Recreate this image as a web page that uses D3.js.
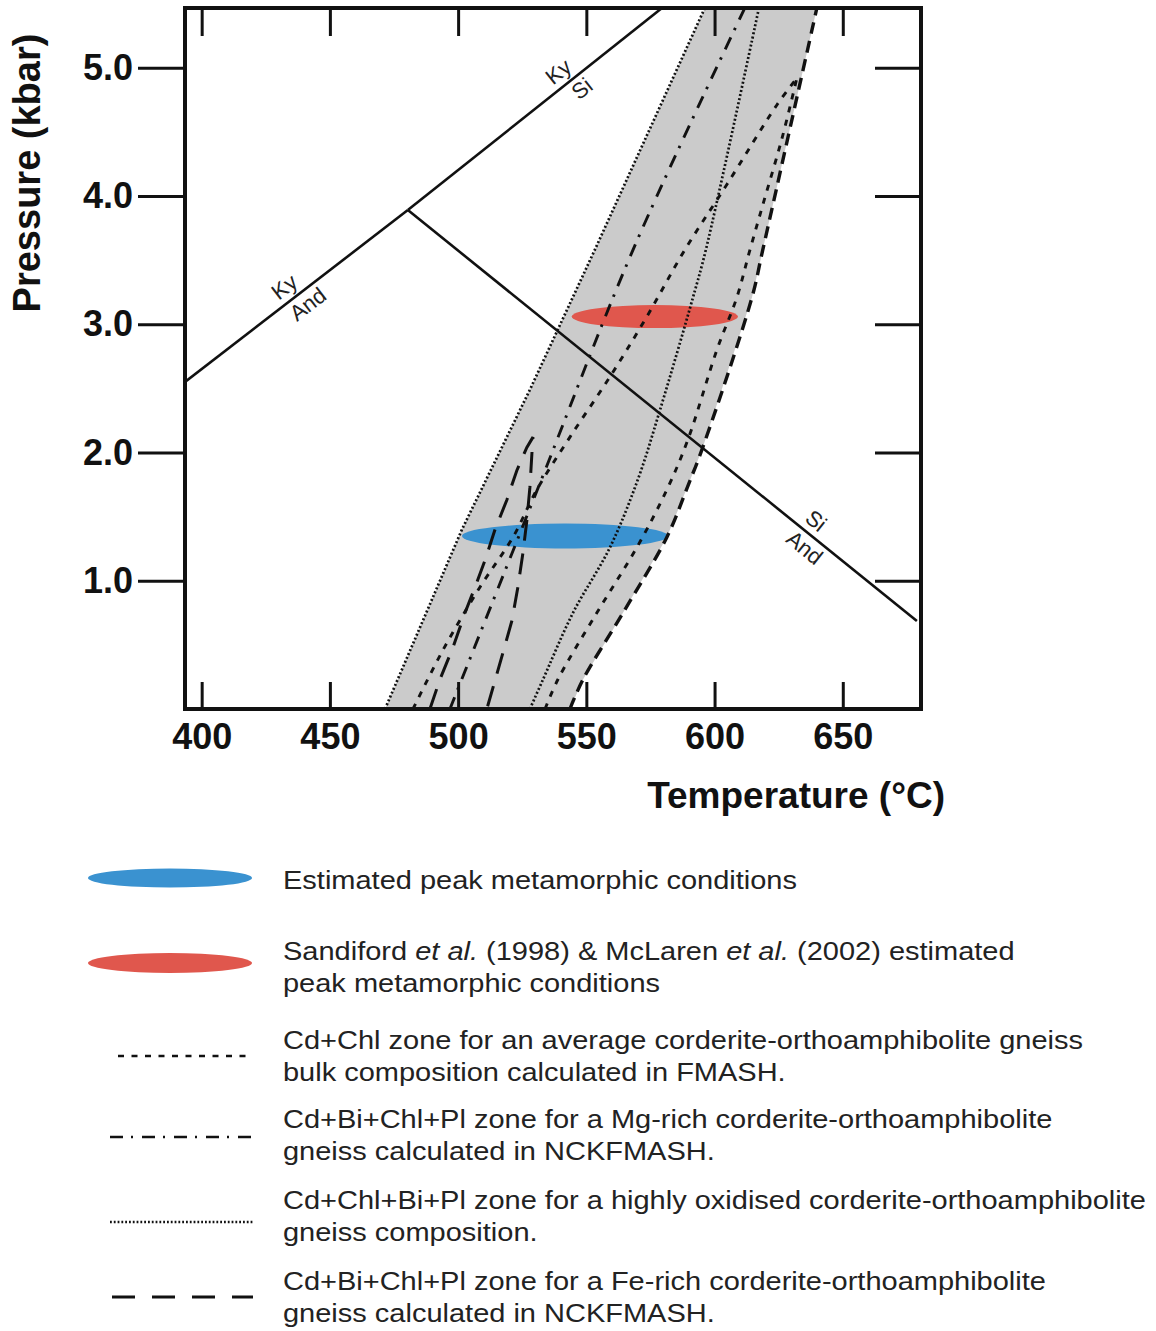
<!DOCTYPE html>
<html><head><meta charset="utf-8">
<script src="https://cdn.jsdelivr.net/npm/d3@7"></script>
<style>body{margin:0;background:#fff}svg{display:block}</style>
</head><body>
<svg id="c" width="1156" height="1331"></svg>
<script>
// ---------- data (temperature °C, pressure kbar) ----------
const xTicks = [400, 450, 500, 550, 600, 650];
const yTicks = [1, 2, 3, 4, 5];
const yTickLabels = ["1.0", "2.0", "3.0", "4.0", "5.0"];
const xDomain = [393.5, 680.5];
const yDomain = [0, 5.466];

// aluminosilicate reaction lines
const kyAnd = [[393.5, 2.55], [480.4, 3.891]];
const kySi  = [[480.4, 3.891], [579.5, 5.466]];
const siAnd = [[480.4, 3.891], [678.9, 0.686]];

// zone boundaries
const oxLeft  = [[471.5,0],[501.5,1.40],[528.0,2.49],[553.3,3.58],[596.2,5.466]];
const oxRight = [[528.0,0],[533.1,0.23],[544.8,0.75],[559.2,1.26],[570.1,1.79],[578.7,2.33],[591.6,3.21],[596.6,3.58],[617.3,5.466]];
const bandRight = [[543.6,0],[548.7,0.23],[564.3,0.75],[581.4,1.34],[590.0,1.76],[595.4,2.04],[614.6,3.21],[618.8,3.58],[639.9,5.466]];
const fmashLeft = [[482.4,0],[494.1,0.46],[508.5,0.95],[521.4,1.34],[530.7,1.71],[543.6,2.12],[559.2,2.59],[573.6,3.06],[588.4,3.58],[604.8,4.09],[624.3,4.71],[632.1,4.92]];
const fmashRight = [[533.9,0],[538.9,0.23],[554.1,0.75],[569.7,1.26],[581.4,1.71],[589.6,2.10],[600.9,2.80],[608.7,3.21],[613.8,3.58],[618.8,3.93],[626.3,4.45],[632.1,4.92]];
const mgRich = [[496.8,0],[531.9,1.76],[568.2,3.58],[611.8,5.466]];
const feRich = [[489.0,0],[492.9,0.23],[498.0,0.48],[502.7,0.75],[506.6,0.95],[510.5,1.16],[514.4,1.40],[519.0,1.63],[522.9,1.86],[526.8,2.04],[529.2,2.12],[528.8,2.00],[528.0,1.73],[526.8,1.47],[525.3,1.22],[523.3,0.95],[521.0,0.69],[517.5,0.44],[511.2,0]];

// peak condition ellipses: centre T, P and half-widths
const peakThisStudy = {T: 541.7, P: 1.349, dT: 40.2, dP: 0.097};
const peakPrevious  = {T: 576.7, P: 3.06,  dT: 32.4, dP: 0.090};

const reactionLabels = [
  {line: kySi,  t: 0.64, above: "Ky", below: "Si"},
  {line: kyAnd, t: 0.50, above: "Ky", below: "And"},
  {line: siAnd, t: 0.79, above: "Si", below: "And"}
];

const legendLabels = [
  ["Estimated peak metamorphic conditions"],
  ["Sandiford <i>et al.</i> (1998) &amp; McLaren <i>et al.</i> (2002) estimated", "peak metamorphic conditions"],
  ["Cd+Chl zone for an average corderite-orthoamphibolite gneiss", "bulk composition calculated in FMASH."],
  ["Cd+Bi+Chl+Pl zone for a Mg-rich corderite-orthoamphibolite", "gneiss calculated in NCKFMASH."],
  ["Cd+Chl+Bi+Pl zone for a highly oxidised corderite-orthoamphibolite", "gneiss composition."],
  ["Cd+Bi+Chl+Pl zone for a Fe-rich corderite-orthoamphibolite", "gneiss calculated in NCKFMASH."]
];

// ---------- styles ----------
const S = {
  dotted:   {dash: "2,2.2",   w: 2.7},
  short:    {dash: "6,7.5",   w: 2.9},
  dashdot:  {dash: "13,8,2.5,9", w: 2.9},
  long:     {dash: "21,13",   w: 3.0},
  heavy:    {dash: "12,7",    w: 3.4}
};
const blue = "#3a92d0", red = "#e0574d";

// ---------- drawing ----------
const svg = d3.select("#c");
const x = d3.scaleLinear().domain(xDomain).range([185, 921]);
const y = d3.scaleLinear().domain(yDomain).range([709, 8]);

svg.append("defs").append("clipPath").attr("id","plot")
  .append("rect").attr("x", x(xDomain[0])).attr("y", y(yDomain[1]))
  .attr("width", x(xDomain[1]) - x(xDomain[0])).attr("height", y(yDomain[0]) - y(yDomain[1]));

const plot = svg.append("g").attr("clip-path", "url(#plot)");
const smooth = d3.line().x(d => x(d[0])).y(d => y(d[1])).curve(d3.curveCatmullRom.alpha(0.5));
const straight = d3.line().x(d => x(d[0])).y(d => y(d[1]));

// grey band
const bandPath = straight(oxLeft) + straight(bandRight.slice().reverse()).replace(/^M/, "L") + "Z";
plot.append("path").attr("d", bandPath).attr("fill", "#cbcbcb").attr("stroke", "none");

// ellipses
function ell(g, e, col) {
  g.append("ellipse")
    .attr("cx", x(e.T)).attr("cy", y(e.P))
    .attr("rx", x(e.T + e.dT) - x(e.T)).attr("ry", y(e.P - e.dP) - y(e.P))
    .attr("fill", col);
}
ell(plot, peakThisStudy, blue);
ell(plot, peakPrevious, red);

function zone(data, st, gen) {
  plot.append("path").attr("d", (gen || smooth)(data))
    .attr("fill", "none").attr("stroke", "#111")
    .attr("stroke-width", st.w).attr("stroke-dasharray", st.dash);
}
zone(oxLeft, S.dotted, straight);
zone(oxRight, S.dotted);
zone(bandRight, S.heavy);
zone(fmashLeft, S.short);
zone(fmashRight, S.short);
zone(mgRich, S.dashdot);
zone(feRich, S.long, straight);

// aluminosilicate lines
[kyAnd, kySi, siAnd].forEach(l => {
  plot.append("path").attr("d", straight(l)).attr("fill", "none")
    .attr("stroke", "#111").attr("stroke-width", 2.6);
});
reactionLabels.forEach(r => {
  const [a, b] = r.line;
  const T = a[0] + (b[0] - a[0]) * r.t, P = a[1] + (b[1] - a[1]) * r.t;
  const px = x(T), py = y(P);
  const ang = Math.atan2(y(b[1]) - y(a[1]), x(b[0]) - x(a[0])) * 180 / Math.PI;
  const g = svg.append("g").attr("transform", `translate(${px},${py}) rotate(${ang})`)
    .attr("font-family", "Liberation Sans, Arial, sans-serif").attr("font-size", 22)
    .attr("fill", "#222").attr("text-anchor", "middle");
  g.append("text").attr("x", -4).attr("y", -7).text(r.above);
  g.append("text").attr("x", 4).attr("y", 21).text(r.below);
});

// axes
const font = "Liberation Sans, Arial, Helvetica, sans-serif";
function styleAxis(g) {
  g.select(".domain").remove();
  g.selectAll(".tick line").attr("stroke", "#111").attr("stroke-width", 3);
  g.selectAll(".tick text").attr("font-family", font).attr("font-weight", "bold")
    .attr("font-size", 36).attr("fill", "#111");
}
svg.append("g").attr("transform", `translate(0,${y(yDomain[0])})`)
  .call(d3.axisBottom(x).tickValues(xTicks).tickSize(-27).tickPadding(14).tickFormat(d3.format("d")))
  .call(styleAxis);
svg.append("g").attr("transform", `translate(0,${y(yDomain[1])})`)
  .call(d3.axisTop(x).tickValues(xTicks).tickSize(-28).tickFormat(""))
  .call(styleAxis);
svg.append("g").attr("transform", `translate(${x(xDomain[0])},0)`)
  .call(d3.axisLeft(y).tickValues(yTicks).tickSize(47).tickPadding(5).tickFormat((d, i) => yTickLabels[i]))
  .call(styleAxis);
svg.append("g").attr("transform", `translate(${x(xDomain[1])},0)`)
  .call(d3.axisRight(y).tickValues(yTicks).tickSize(-46).tickFormat(""))
  .call(styleAxis);

// frame
svg.append("rect").attr("x", x(xDomain[0])).attr("y", y(yDomain[1]))
  .attr("width", x(xDomain[1]) - x(xDomain[0])).attr("height", y(yDomain[0]) - y(yDomain[1]))
  .attr("fill", "none").attr("stroke", "#111").attr("stroke-width", 4);

// axis titles
svg.append("text").attr("x", 945).attr("y", 808).attr("text-anchor", "end")
  .attr("font-family", font).attr("font-weight", "bold").attr("font-size", 37).attr("fill", "#111")
  .text("Temperature (°C)");
svg.append("text").attr("transform", "translate(40,173) rotate(-90)").attr("text-anchor", "middle")
  .attr("font-family", font).attr("font-weight", "bold").attr("font-size", 38).attr("fill", "#111")
  .text("Pressure (kbar)");

// legend
const lg = svg.append("g");
const symY = [878, 963, 1056, 1137, 1222, 1297];
const baseY = [[889], [960, 992], [1049, 1081], [1128, 1160], [1209, 1241], [1290, 1322]];
lg.append("ellipse").attr("cx", 170).attr("cy", symY[0]).attr("rx", 82).attr("ry", 9.5).attr("fill", blue);
lg.append("ellipse").attr("cx", 170).attr("cy", symY[1]).attr("rx", 82).attr("ry", 10).attr("fill", red);
const legStyles = [{dash: "6,7.5", w: 2.6}, {dash: "13,8,2,9", w: 2.6}, {dash: "1.8,2.0", w: 2.3}, {dash: "23,17", w: 3}];
const legX1 = [118, 110, 110, 112];
legStyles.forEach((st, i) => {
  lg.append("line").attr("x1", legX1[i]).attr("x2", 253).attr("y1", symY[i + 2]).attr("y2", symY[i + 2])
    .attr("stroke", "#111").attr("stroke-width", st.w).attr("stroke-dasharray", st.dash);
});
legendLabels.forEach((lines, i) => {
  lines.forEach((ln, j) => {
    const t = lg.append("text")
      .attr("transform", `translate(283,${baseY[i][j]}) scale(1.16,1)`)
      .attr("font-family", font).attr("font-size", 25).attr("fill", "#222");
    ln.split(/(<i>.*?<\/i>)/).forEach(part => {
      if (!part) return;
      const it = part.startsWith("<i>");
      t.append("tspan").attr("font-style", it ? "italic" : null)
        .text(part.replace(/<\/?i>/g, "").replace(/&amp;/g, "&"));
    });
  });
});
</script>
</body></html>
